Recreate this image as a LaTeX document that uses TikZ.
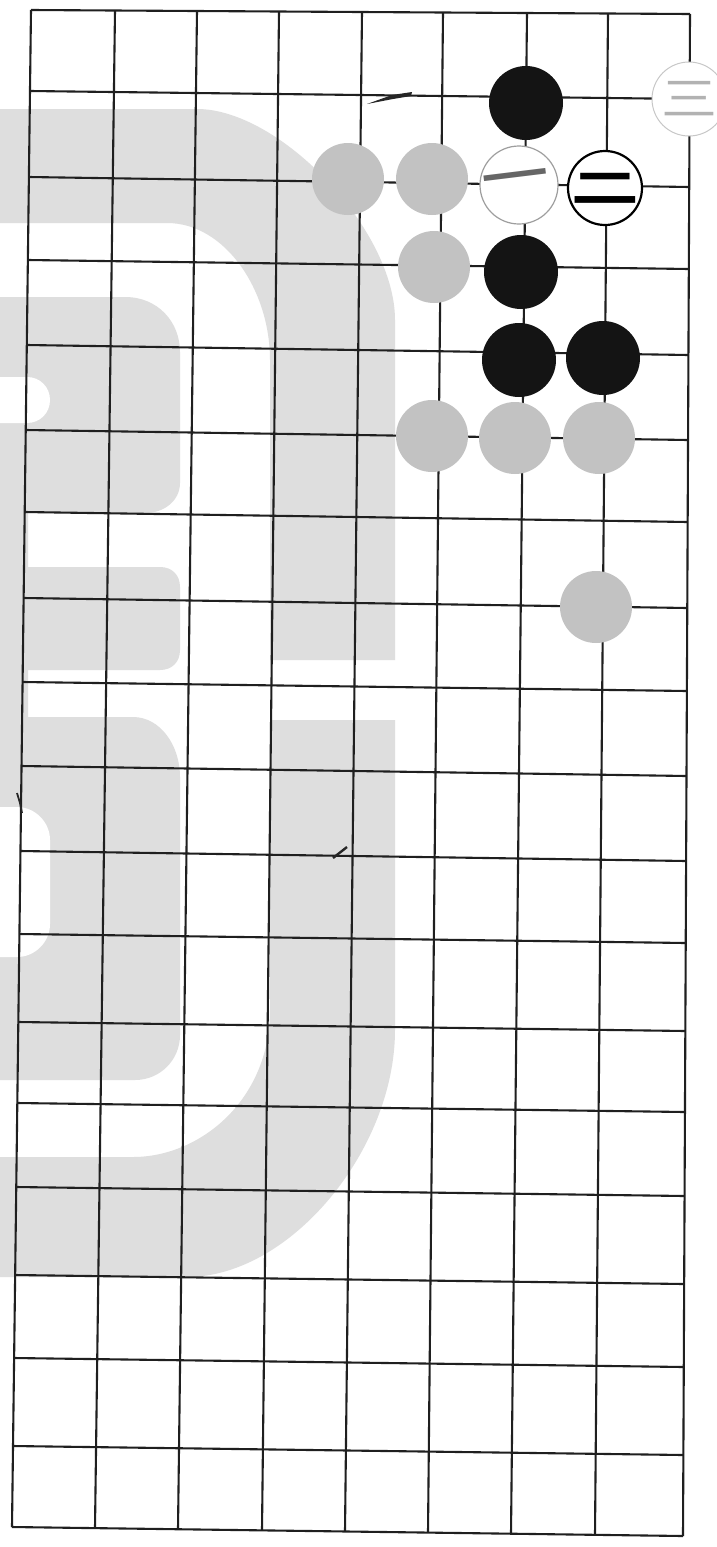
\documentclass[tikz,border=0pt]{standalone}
\usepackage{graphicx}
\usepackage{fontspec}
\newfontfamily\cjk{Noto Sans CJK SC}
\begin{document}
\begin{tikzpicture}[x=0.5pt,y=-0.5pt,
  wm/.style={fill=black!13},
  gridline/.style={draw=black!88,line width=1.05pt},
  stone/.style={circle,inner sep=0pt,minimum size=37pt},
  bstone/.style={stone,fill=black!92},
  gstone/.style={stone,fill=black!24,minimum size=36pt},
  wfaint/.style={stone,fill=white,draw=black!22,line width=0.5pt},
  wthin/.style={stone,fill=white,draw=black!38,line width=0.6pt,minimum size=39pt},
  wbold/.style={stone,fill=white,draw=black,line width=1.1pt}]
\clip (0,0) rectangle (717,1547);
\fill[white] (0,0) rectangle (717,1547);
\useasboundingbox (0,0) rectangle (717,1547);
% watermark
\fill[wm] (0,109) -- (197,109) .. controls (280,109) and (395,230) .. (395,320) -- (395,660) -- (270,660) -- (270,360) .. controls (270,290) and (225,223) .. (167,223) -- (0,223) -- cycle;
\fill[wm] (0,297) -- (125,297) .. controls (158,297) and (180,322) .. (180,352) -- (180,483) .. controls (180,500) and (165,513) .. (145,513) -- (28,513) -- (28,567) -- (160,567) .. controls (172,567) and (180,575) .. (180,587) -- (180,650) .. controls (180,662) and (172,670) .. (160,670) -- (28,670) -- (28,717) -- (133,717) .. controls (160,717) and (180,745) .. (180,777) -- (180,1035) .. controls (180,1060) and (160,1080) .. (135,1080) -- (0,1080) -- cycle;
\fill[white] (0,377) -- (27,377) .. controls (40,377) and (50,387) .. (50,400) .. controls (50,413) and (40,423) .. (27,423) -- (0,423) -- cycle;
\fill[white] (0,807) -- (17,807) .. controls (35,807) and (50,822) .. (50,840) -- (50,924) .. controls (50,942) and (35,957) .. (17,957) -- (0,957) -- cycle;
\fill[wm] (270,720) -- (395,720) -- (395,1030) .. controls (395,1150) and (290,1277) .. (187,1277) -- (0,1277) -- (0,1157) -- (133,1157) .. controls (200,1157) and (270,1100) .. (270,1010) -- cycle;
% grid: horizontal lines
\foreach \yl/\yr in {10/14,91/99,177/187,260/269,345/355,430/440,512/522,598/608,682/691,766/776,851/861,934/943,1022/1031,1103/1112,1187/1196,1275/1284,1358/1367,1446/1455,1527/1536}
  \draw[gridline] ({31-(\yl-10)/1517*19},\yl) -- ({690-(\yr-14)/1522*7},\yr);
% grid: vertical lines
\foreach \xt/\xb in {31/12,115/95,197/178,279/262,362/345,443/428,527/511,608/595,690/683}
  \draw[gridline] (\xt,{10+(\xt-31)/659*4}) -- (\xb,{1527+(\xb-12)/671*9});
% small marks of the print
\fill[black!85] (367,104) -- (392,95) -- (412,92) -- (411,96) -- (393,99) -- cycle;
\draw[black!85,line width=1.2pt] (333,858) -- (347,847);
\draw[black!85,line width=0.9pt] (17,793) -- (20,803) -- (22,813);
% stones
\node[bstone] (b1) at (526,103) {};
\node[bstone] (b2) at (521,272) {};
\node[bstone] (b3) at (519,360) {};
\node[bstone] (b4) at (603,358) {};
\node[gstone] (g1) at (348,179) {};
\node[gstone] (g2) at (432,179) {};
\node[gstone] (g3) at (434,267) {};
\node[gstone] (g4) at (432,436) {};
\node[gstone] (g5) at (515,438) {};
\node[gstone] (g6) at (599,438) {};
\node[gstone] (g7) at (596,607) {};
\node[wfaint] (w3) at (689,99) {\textcolor{black!30}{\scalebox{1}[0.82]{\cjk\fontsize{28}{28}\selectfont 三}}};
\node[wthin] (w1) at (519,185) {};
\node[rotate=7,text=black!60,inner sep=0pt] (t1) at (516,187) {\cjk\fontsize{34}{34}\selectfont 一};
\node[wbold] (w2) at (605,188) {\scalebox{1.3}[0.78]{\cjk\bfseries\fontsize{26}{26}\selectfont 二}};
\end{tikzpicture}
\end{document}
